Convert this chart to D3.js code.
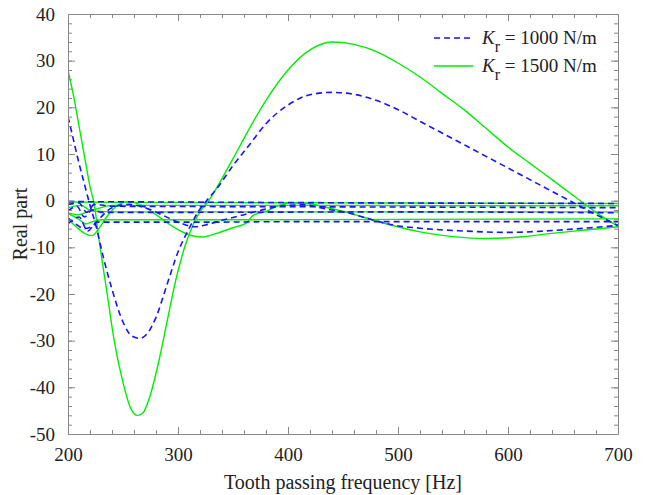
<!DOCTYPE html>
<html>
<head>
<meta charset="utf-8">
<script src="https://cdn.jsdelivr.net/npm/d3@7"></script>
<style>
  body { margin: 0; background: #fff; }
  svg, svg text { font-family: "Liberation Serif", "Times New Roman", Times, serif !important; }
  svg text { fill: #222; }
</style>
</head>
<body>
<div id="chart"></div>
<script>
// Real part of eigenvalues vs tooth passing frequency, two radial stiffness values
const xTicks = [200, 300, 400, 500, 600, 700];
const yTicks = [-50, -40, -30, -20, -10, 0, 10, 20, 30, 40];
const legendLabels = ["1000 N/m", "1500 N/m"];

// K_r = 1000 N/m (blue dashed)
const blueBig = [[200,18],[205,13],[210,8],[215,3.5],[220,-1],[225,-5],[232,-12],[240,-19],[250,-26],[258,-29],[265,-29.5],[272,-28.5],[280,-25],[290,-18],[300,-11],[310,-6],[318,-2.5],[326,0],[335,2.5],[350,7.5],[365,12],[380,16.5],[400,20.5],[420,22.7],[440,23.2],[460,22.8],[480,21.5],[500,19.5],[520,17],[540,14.5],[560,12],[580,9.5],[600,7],[620,4.5],[640,2],[660,-0.5],[680,-3],[700,-5.3]];
const blueC = [[200,-3.7],[207,-5],[215,-6],[222,-5.5],[230,-3.5],[240,-1.5],[255,-0.8],[270,-1.5],[285,-3],[300,-4.6],[315,-5.6],[325,-5.2],[340,-4.2],[360,-3],[380,-1.8],[400,-1],[415,-0.9],[435,-1.8],[456,-2.7],[475,-4],[493,-5.1],[520,-5.9],[560,-6.5],[600,-6.8],[640,-6.4],[670,-5.9],[700,-5.3]];
const blueF1 = [[200,-0.2],[300,-0.3],[400,-0.4],[500,-0.5],[600,-0.55],[700,-0.6]];
const blueF2 = [[200,-0.8],[210,-0.5],[217,-2.5],[224,-0.8],[240,-1.2],[400,-1.3],[550,-1.4],[700,-1.5]];
const blueF3 = [[200,-2.2],[208,-1.2],[215,-3.5],[222,-2],[230,-2.5],[300,-2.5],[500,-2.4],[700,-2.6]];
const blueF4 = [[200,-5],[210,-3.5],[218,-6.5],[226,-4.6],[330,-4.6],[400,-4.5],[550,-4.5],[700,-4.5]];

// K_r = 1500 N/m (green solid)
const greenBig = [[200,28],[205,22.5],[210,16],[215,9.5],[220,3],[224,-1],[228,-8],[235,-19],[242,-30],[250,-39],[257,-44.5],[263,-46],[268,-45.5],[275,-41.5],[282,-35],[290,-26],[298,-17],[306,-10],[314,-5],[321,-2],[328,0],[337,3.5],[350,9],[365,15.5],[380,21.5],[400,28],[420,32.3],[440,34],[460,33.5],[480,32],[500,29.5],[520,26.5],[540,23],[560,19.5],[580,15.5],[600,11.5],[620,8],[640,4.5],[660,1],[680,-2.5],[700,-5.5]];
const greenC = [[200,-4],[207,-5.5],[215,-7],[222,-7.5],[228,-6],[235,-3.5],[245,-1],[255,-0.2],[265,-0.8],[280,-3],[295,-5.5],[310,-7.3],[322,-7.8],[335,-7],[350,-5.8],[362,-4.8],[368,-3.2],[380,-2.3],[392,-1],[405,-0.5],[418,-0.6],[432,-1.3],[450,-2.3],[468,-3.5],[490,-5],[520,-6.7],[550,-7.7],[580,-8.1],[610,-7.8],[640,-7],[670,-6.3],[700,-5.6]];
const greenF1 = [[200,-0.3],[300,-0.4],[400,-0.45],[500,-0.5],[600,-0.55],[700,-0.6]];
const greenF2 = [[200,-1.5],[212,-1],[220,-2],[240,-1],[400,-1],[550,-1.1],[700,-1.1]];
const greenF3 = [[200,-2.6],[210,-3],[220,-2.2],[240,-2.4],[400,-2.4],[550,-2.4],[700,-2.4]];
const greenF4 = [[200,-2.8],[210,-4],[216,-5],[222,-4.5],[230,-4.1],[330,-4.1],[500,-4],[700,-3.9]];

const blueSeries = [blueF1, blueF2, blueF3, blueF4, blueC, blueBig];
const greenSeries = [greenF1, greenF2, greenF3, greenF4, greenC, greenBig];

const W = 646, H = 495;
const margin = { top: 14, right: 28, bottom: 61, left: 68 };
const serif = "Liberation Serif, Times New Roman, Times, serif";

const x = d3.scaleLinear().domain([200, 700]).range([margin.left, W - margin.right]);
const y = d3.scaleLinear().domain([-50, 40]).range([H - margin.bottom, margin.top]);

const svg = d3.select("#chart").append("svg")
  .attr("width", W).attr("height", H)
  .attr("font-family", serif);

svg.append("clipPath").attr("id", "clip").append("rect")
  .attr("x", margin.left).attr("y", margin.top)
  .attr("width", x.range()[1] - margin.left).attr("height", y.range()[0] - margin.top);

const line = d3.line().x(d => x(d[0])).y(d => y(d[1])).curve(d3.curveMonotoneX);

const plot = svg.append("g").attr("clip-path", "url(#clip)");

plot.selectAll("path.g").data(greenSeries).join("path")
  .attr("class", "g")
  .attr("d", line)
  .attr("fill", "none")
  .attr("stroke", "#00ee00")
  .attr("stroke-width", 1.4);

plot.selectAll("path.b").data(blueSeries).join("path")
  .attr("class", "b")
  .attr("d", line)
  .attr("fill", "none")
  .attr("stroke", "#1515ff")
  .attr("stroke-width", 1.6)
  .attr("stroke-dasharray", "6,4");

// frame + inward ticks on all sides
const frameColor = "#888";
const xMinor = d3.range(200, 701, 20);
const yMinor = d3.range(-50, 41, 2);
const plain = d => String(d); // hyphen minus like the original

function styleAxis(g) {
  g.attr("font-family", serif);
  g.select(".domain").attr("stroke", frameColor);
  g.selectAll(".tick line").attr("stroke", frameColor);
  g.selectAll("text").attr("font-size", 19).attr("font-family", serif);
}

svg.append("g").attr("transform", `translate(0,${y(-50)})`)
  .call(d3.axisBottom(x).tickValues(xMinor).tickSize(-4).tickFormat("").tickSizeOuter(0)).call(styleAxis);
svg.append("g").attr("transform", `translate(0,${y(-50)})`)
  .call(d3.axisBottom(x).tickValues(xTicks).tickSize(-7).tickPadding(14).tickFormat(plain).tickSizeOuter(0)).call(styleAxis);
svg.append("g").attr("transform", `translate(0,${y(40)})`)
  .call(d3.axisTop(x).tickValues(xMinor).tickSize(-4).tickFormat("").tickSizeOuter(0)).call(styleAxis);
svg.append("g").attr("transform", `translate(0,${y(40)})`)
  .call(d3.axisTop(x).tickValues(xTicks).tickSize(-7).tickFormat("").tickSizeOuter(0)).call(styleAxis);

svg.append("g").attr("transform", `translate(${x(200)},0)`)
  .call(d3.axisLeft(y).tickValues(yMinor).tickSize(-4).tickFormat("").tickSizeOuter(0)).call(styleAxis);
svg.append("g").attr("transform", `translate(${x(200)},0)`)
  .call(d3.axisLeft(y).tickValues(yTicks).tickSize(-7).tickPadding(13).tickFormat(plain).tickSizeOuter(0)).call(styleAxis);
svg.append("g").attr("transform", `translate(${x(700)},0)`)
  .call(d3.axisRight(y).tickValues(yMinor).tickSize(-4).tickFormat("").tickSizeOuter(0)).call(styleAxis);
svg.append("g").attr("transform", `translate(${x(700)},0)`)
  .call(d3.axisRight(y).tickValues(yTicks).tickSize(-7).tickFormat("").tickSizeOuter(0)).call(styleAxis);

// axis titles
svg.append("text")
  .attr("x", (x(200) + x(700)) / 2).attr("y", 489)
  .attr("text-anchor", "middle").attr("font-size", 20)
  .text("Tooth passing frequency [Hz]");
svg.append("text")
  .attr("transform", `translate(27,${(y(40) + y(-50)) / 2}) rotate(-90)`)
  .attr("text-anchor", "middle").attr("font-size", 20)
  .text("Real part");

// legend
const legend = svg.append("g");
const rows = [
  { label: legendLabels[0], color: "#1515ff", dash: "6,4", w: 1.6, yy: 38 },
  { label: legendLabels[1], color: "#00ee00", dash: null, w: 1.4, yy: 66 }
];
rows.forEach(r => {
  legend.append("line")
    .attr("x1", 434).attr("x2", 473).attr("y1", r.yy).attr("y2", r.yy)
    .attr("stroke", r.color).attr("stroke-width", r.w)
    .attr("stroke-dasharray", r.dash);
  const t = legend.append("text").attr("x", 482).attr("y", r.yy + 6).attr("font-size", 19);
  t.append("tspan").attr("font-style", "italic").text("K");
  t.append("tspan").attr("dy", 8).attr("font-size", 16).text("r");
  t.append("tspan").attr("dy", -8).text(" = " + r.label);
});
</script>
</body>
</html>
